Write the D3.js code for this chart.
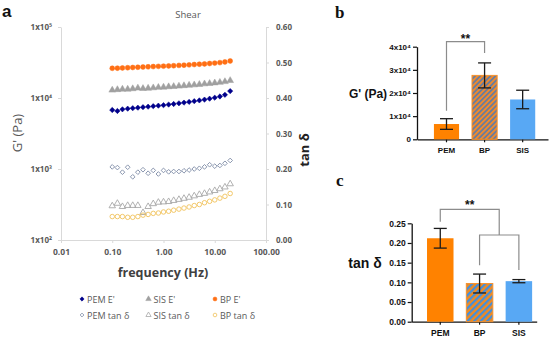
<!DOCTYPE html>
<html>
<head>
<meta charset="utf-8">
<script src="https://cdn.jsdelivr.net/npm/d3@7"></script>
<style>
  body { margin: 0; background: #fff; }
  svg { display: block; }
</style>
</head>
<body>
<div id="image"></div>
<script>
// ---- data ----
var freq = [0.1, 0.126, 0.158, 0.2, 0.251, 0.316, 0.398, 0.501, 0.631, 0.794, 1, 1.26,
            1.58, 2, 2.51, 3.16, 3.98, 5.01, 6.31, 7.94, 10, 12.6, 15.8, 20];
var pemE = [6780, 6560, 6930, 7070, 7180, 7300, 7420, 7540, 7670, 7800, 7920, 8080,
            8230, 8420, 8610, 8810, 9020, 9250, 9490, 9780, 10100, 10500, 11100, 12500];
var sisE = [12900, 13100, 13300, 13300, 13500, 13800, 13600, 13700, 13900, 14100, 14200, 14400,
            14500, 14700, 14900, 15100, 15300, 15500, 15800, 16000, 16300, 16600, 17000, 17600];
var bpE = [26200, 26300, 26500, 26700, 26900, 27100, 27300, 27500, 27700, 27900, 28100, 28300,
           28500, 28800, 29000, 29300, 29600, 29900, 30200, 30600, 31000, 31500, 32200, 33200];
var pemTan = [0.206, 0.204, 0.191, 0.205, 0.178, 0.191, 0.198, 0.188, 0.196, 0.186, 0.196, 0.192,
              0.193, 0.193, 0.195, 0.197, 0.200, 0.202, 0.206, 0.212, 0.208, 0.210, 0.216, 0.224];
var sisTan = [0.096, 0.103, 0.094, 0.097, 0.097, 0.097, 0.077, 0.094, 0.102, 0.106, 0.107, 0.108,
              0.111, 0.114, 0.117, 0.120, 0.124, 0.128, 0.131, 0.135, 0.139, 0.144, 0.149, 0.158];
var bpTan = [0.066, 0.066, 0.066, 0.064, 0.064, 0.066, 0.070, 0.072, 0.075, 0.076, 0.079, 0.081,
             0.084, 0.087, 0.090, 0.093, 0.097, 0.100, 0.105, 0.109, 0.113, 0.118, 0.123, 0.131];
var legendLabels = ["PEM E'", "SIS E'", "BP E'", "PEM tan δ", "SIS tan δ", "BP tan δ"];
var gTicks = [100, 1000, 10000, 100000];
var tanTicks = [0, 0.1, 0.2, 0.3, 0.4, 0.5, 0.6];
var freqTicks = [0.01, 0.1, 1, 10, 100];

var groups = ["PEM", "BP", "SIS"];
var gMean = [6600, 27600, 17200];
var gErr = [2300, 5400, 4000];
var gBarTicks = [0, 10000, 20000, 30000, 40000];
var tanMean = [0.212, 0.097, 0.103];
var tanErr = [0.025, 0.024, 0.004];
var tanBarTicks = [0, 0.05, 0.10, 0.15, 0.20, 0.25];

var W = 550, H = 339;
var svg = d3.select("#image").append("svg").attr("width", W).attr("height", H);
var defs = svg.append("defs");

var sans = "'Open Sans', 'Liberation Sans', sans-serif";
var arial = "'Liberation Sans', Arial, sans-serif";
var supNum = {"0": "⁰", "1": "¹", "2": "²", "3": "³", "4": "⁴", "5": "⁵"};

// ================= panel a =================
var x = d3.scaleLog().domain([0.01, 100]).range([61, 266]);
var yL = d3.scaleLog().domain([100, 100000]).range([240, 27]);
var yR = d3.scaleLinear().domain([0, 0.6]).range([240, 27]);

function styleAxis(g, col) {
    g.select(".domain").attr("stroke", col);
    g.selectAll(".tick line").attr("stroke", col);
    g.selectAll("text").attr("fill", "#595959").style("font-family", sans)
        .style("font-size", "8px").style("font-weight", "bold");
}

var axL = svg.append("g").attr("transform", "translate(61,0)")
    .call(d3.axisLeft(yL).tickValues(gTicks).tickSize(3).tickSizeOuter(0).tickPadding(6)
        .tickFormat(function(d) { return "1x10" + supNum[Math.round(Math.log10(d))]; }));
styleAxis(axL, "#d9d9d9");

var axR = svg.append("g").attr("transform", "translate(266,0)")
    .call(d3.axisRight(yR).tickValues(tanTicks).tickSize(3).tickSizeOuter(0).tickPadding(7)
        .tickFormat(d3.format(".2f")));
styleAxis(axR, "#d9d9d9");

var axB = svg.append("g").attr("transform", "translate(0,240)")
    .call(d3.axisBottom(x).tickValues(freqTicks).tickSize(3).tickSizeOuter(0).tickPadding(6)
        .tickFormat(d3.format(".2f")));
styleAxis(axB, "#d9d9d9");
axB.selectAll("text").style("font-size", "8.5px");

// diamonds are squares turned by 45 degrees
var series = [
    {vals: pemE, y: yL, sym: d3.symbolSquare, rot: 45, size: 14, fill: "#00008b", stroke: "#00008b"},
    {vals: sisE, y: yL, sym: d3.symbolTriangle, rot: 0, size: 20, fill: "#a0a0a0", stroke: "#a0a0a0"},
    {vals: bpE, y: yL, sym: d3.symbolCircle, rot: 0, size: 19, fill: "#ff6f14", stroke: "#ff6f14"},
    {vals: pemTan, y: yR, sym: d3.symbolSquare, rot: 45, size: 11, fill: "none", stroke: "#8491aa"},
    {vals: sisTan, y: yR, sym: d3.symbolTriangle, rot: 0, size: 18, fill: "none", stroke: "#a8a8a8"},
    {vals: bpTan, y: yR, sym: d3.symbolCircle, rot: 0, size: 16, fill: "none", stroke: "#f0c25a"}
];

series.forEach(function(s) {
    svg.append("g").selectAll("path")
        .data(s.vals)
        .enter().append("path")
        .attr("d", d3.symbol().type(s.sym).size(s.size))
        .attr("transform", function(d, i) {
            return "translate(" + x(freq[i]) + "," + s.y(d) + ") rotate(" + s.rot + ")";
        })
        .attr("fill", s.fill)
        .attr("stroke", s.stroke)
        .attr("stroke-width", s.fill == "none" ? 0.9 : 0.5);
});

svg.append("text").attr("x", 188).attr("y", 18).attr("text-anchor", "middle")
    .style("font-family", sans).style("font-size", "9.5px").attr("fill", "#595959")
    .text("Shear");

svg.append("text").attr("x", 2).attr("y", 17)
    .style("font-family", arial).style("font-size", "17px").style("font-weight", "bold")
    .attr("fill", "#111").text("a");

svg.append("text")
    .attr("transform", "translate(22,133) rotate(-90)")
    .attr("text-anchor", "middle")
    .style("font-family", sans).style("font-size", "13px").attr("fill", "#595959")
    .text("G' (Pa)");

svg.append("text")
    .attr("transform", "translate(309,150) rotate(-90)")
    .attr("text-anchor", "middle")
    .style("font-family", sans).style("font-size", "13px").style("font-weight", "bold")
    .attr("fill", "#222").text("tan δ");

svg.append("text").attr("x", 163).attr("y", 277).attr("text-anchor", "middle")
    .style("font-family", sans).style("font-size", "12.5px").style("font-weight", "bold")
    .attr("fill", "#404040").text("frequency (Hz)");

// legend
var legend = svg.selectAll(".legend")
    .data(legendLabels)
    .enter().append("g")
    .attr("class", "legend")
    .attr("transform", function(d, i) {
        return "translate(" + (82 + (i % 3) * 66.5) + "," + (299 + Math.floor(i / 3) * 16) + ")";
    });

legend.append("path")
    .attr("d", function(d, i) {
        var s = series[i];
        return d3.symbol().type(s.sym).size(s.size * 0.65)();
    })
    .attr("transform", function(d, i) { return "rotate(" + series[i].rot + ")"; })
    .attr("fill", function(d, i) { return series[i].fill; })
    .attr("stroke", function(d, i) { return series[i].stroke; })
    .attr("stroke-width", function(d, i) { return series[i].fill == "none" ? 0.8 : 0.5; });

legend.append("text")
    .attr("x", 5).attr("y", 3.5)
    .style("font-family", sans).style("font-size", "9px").attr("fill", "#595959")
    .text(function(d) { return d; });

// ================= bar panels =================
function hatch(id, bg, line, w, gap) {
    var p = defs.append("pattern").attr("id", id).attr("patternUnits", "userSpaceOnUse")
        .attr("width", gap).attr("height", gap).attr("patternTransform", "rotate(45)");
    p.append("rect").attr("width", gap).attr("height", gap).attr("fill", bg);
    p.append("rect").attr("width", w).attr("height", gap).attr("fill", line);
}
hatch("hatchB", "#f08a2c", "#6b7c9c", 1.8, 3.6);
hatch("hatchC", "#f28a1e", "#3f8fe0", 2.2, 4.6);

var barFill = {PEM: "#ff8200", SIS: "#58a8f4"};

function barPanel(o) {
    var xb = d3.scaleBand().domain(groups).range(o.xr)
        .paddingInner(o.pi).paddingOuter(o.po).align(o.align);
    var yb = d3.scaleLinear().domain([0, o.ticks[o.ticks.length - 1]]).range(o.yr);

    var ay = svg.append("g").attr("transform", "translate(" + o.xr[0] + ",0)")
        .call(d3.axisLeft(yb).tickValues(o.ticks).tickSize(4).tickSizeOuter(0).tickPadding(2)
            .tickFormat(o.fmt));
    var ax = svg.append("g").attr("transform", "translate(0," + o.yr[0] + ")")
        .call(d3.axisBottom(xb).tickSize(3).tickSizeOuter(0).tickPadding(5));
    [ay, ax].forEach(function(g) {
        g.select(".domain").attr("stroke", "#111").attr("stroke-width", 1.3);
        g.selectAll(".tick line").attr("stroke", "#111").attr("stroke-width", 1.2);
        g.selectAll("text").attr("fill", "#111").style("font-family", arial)
            .style("font-size", o.fs).style("font-weight", "bold");
    });

    svg.append("g").selectAll("rect")
        .data(groups)
        .enter().append("rect")
        .attr("x", function(d) { return xb(d); })
        .attr("width", xb.bandwidth())
        .attr("y", function(d, i) { return yb(o.mean[i]); })
        .attr("height", function(d, i) { return yb(0) - yb(o.mean[i]); })
        .attr("fill", function(d) { return d == "BP" ? "url(#" + o.hatch + ")" : barFill[d]; })
        .attr("stroke", function(d) { return d == "BP" ? "#f5922e" : "none"; })
        .attr("stroke-width", 1);

    var eb = svg.append("g").attr("stroke", "#1a1a1a").attr("stroke-width", 1.3)
        .selectAll("g").data(groups).enter().append("g");
    eb.append("line")
        .attr("x1", function(d) { return xb(d) + xb.bandwidth() / 2; })
        .attr("x2", function(d) { return xb(d) + xb.bandwidth() / 2; })
        .attr("y1", function(d, i) { return yb(o.mean[i] - o.err[i]); })
        .attr("y2", function(d, i) { return yb(o.mean[i] + o.err[i]); });
    [1, -1].forEach(function(sg) {
        eb.append("line")
            .attr("x1", function(d) { return xb(d) + xb.bandwidth() / 2 - 6.5; })
            .attr("x2", function(d) { return xb(d) + xb.bandwidth() / 2 + 6.5; })
            .attr("y1", function(d, i) { return yb(o.mean[i] + sg * o.err[i]); })
            .attr("y2", function(d, i) { return yb(o.mean[i] + sg * o.err[i]); });
    });

    svg.append("text").attr("x", o.lab[0]).attr("y", o.lab[1]).attr("text-anchor", "middle")
        .style("font-family", arial).style("font-size", o.labSize).style("font-weight", "bold")
        .attr("fill", "#111").text(o.label);
    return {xb: xb, yb: yb, cx: function(d) { return xb(d) + xb.bandwidth() / 2; }};
}

// panel b
var pb = barPanel({
    xr: [417, 548], yr: [139.3, 46.7], pi: 0.34, po: 0.39, align: 0.57,
    ticks: gBarTicks, mean: gMean, err: gErr, hatch: "hatchB", fs: "8px",
    fmt: function(d) { return d == 0 ? "0" : (d / 10000) + "x10⁴"; },
    label: "G' (Pa)", lab: [368, 98], labSize: "12px"
});
svg.append("text").attr("x", 335).attr("y", 18)
    .style("font-family", "'Liberation Serif', serif").style("font-size", "17px")
    .style("font-weight", "bold").attr("fill", "#111").text("b");

var bTop = 41.7;
svg.append("path")
    .attr("d", "M" + pb.cx("PEM") + "," + (pb.yb(gMean[0] + gErr[0]) - 8) +
        "V" + bTop + "H" + pb.cx("BP") + "V" + (pb.yb(gMean[1] + gErr[1]) - 10))
    .attr("fill", "none").attr("stroke", "#8c8c8c").attr("stroke-width", 1.2);
svg.append("text").attr("x", (pb.cx("PEM") + pb.cx("BP")) / 2).attr("y", bTop + 1)
    .attr("text-anchor", "middle").style("font-family", arial).style("font-size", "12px")
    .style("font-weight", "bold").attr("fill", "#111").text("**");

// panel c
var pc = barPanel({
    xr: [411.7, 536.7], yr: [321.7, 223.3], pi: 0.326, po: 0.253, align: 0.77,
    ticks: tanBarTicks, mean: tanMean, err: tanErr, hatch: "hatchC", fs: "8.5px",
    fmt: d3.format(".2f"),
    label: "tan δ", lab: [365, 268], labSize: "14px"
});
svg.append("text").attr("x", 336).attr("y", 186)
    .style("font-family", "'Liberation Serif', serif").style("font-size", "17px")
    .style("font-weight", "bold").attr("fill", "#111").text("c");

var cTop = 209.3, cMid = 235;
var cRight = (pc.cx("BP") + pc.cx("SIS")) / 2;
svg.append("path")
    .attr("d", "M" + pc.cx("PEM") + "," + (pc.yb(tanMean[0] + tanErr[0]) - 6.6) +
        "V" + cTop + "H" + cRight + "V" + cMid)
    .attr("fill", "none").attr("stroke", "#8c8c8c").attr("stroke-width", 1.2);
svg.append("path")
    .attr("d", "M" + pc.cx("BP") + "," + (pc.yb(tanMean[1] + tanErr[1]) - 8.7) +
        "V" + cMid + "H" + pc.cx("SIS") + "V" + (pc.yb(tanMean[2] + tanErr[2]) - 9.6))
    .attr("fill", "none").attr("stroke", "#8c8c8c").attr("stroke-width", 1.2);
svg.append("text").attr("x", (pc.cx("PEM") + cRight) / 2).attr("y", cTop - 0.5)
    .attr("text-anchor", "middle").style("font-family", arial).style("font-size", "12px")
    .style("font-weight", "bold").attr("fill", "#111").text("**");
</script>
</body>
</html>
